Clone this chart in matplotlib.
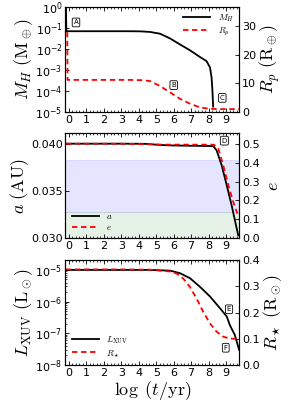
import matplotlib
matplotlib.use("Agg")
import matplotlib.pyplot as plt
import numpy as np

plt.rcParams["mathtext.fontset"] = "cm"
plt.rcParams["xtick.direction"] = "in"
plt.rcParams["ytick.direction"] = "in"
plt.rcParams["xtick.top"] = True

# panneau 1 : masse d'hydrogene et rayon de la planete
t_MH = [-0.17, -0.15, 0.5, 2.0, 3.5, 4.1, 4.64, 5.21, 5.79, 6.36, 6.93, 7.5, 7.88, 8.08, 8.17, 8.22, 8.26]
MH = [0.8, 0.068, 0.068, 0.068, 0.068, 0.067, 0.063, 0.052, 0.031, 0.016, 0.0085, 0.0041, 0.0026, 0.0013, 0.00044, 0.0001, 0.000018]
t_Rp = [-0.1, -0.08, 0.5, 2.0, 3.5, 4.2, 4.64, 5.21, 5.79, 6.36, 6.93, 7.5, 8.08, 8.6, 9.2, 9.75]
Rp = [28.0, 11.2, 11.2, 11.2, 11.2, 11.1, 10.8, 9.1, 6.85, 4.6, 2.9, 1.6, 1.1, 1.0, 1.0, 1.0]

# panneau 2 : demi-grand axe et excentricite
t_a = [-0.17, 1.0, 3.0, 4.3, 4.64, 5.2, 5.79, 7.0, 8.27, 8.46, 8.75, 9.04, 9.32, 9.57, 9.7]
a = [0.0400, 0.0400, 0.0400, 0.03999, 0.03995, 0.03987, 0.03982, 0.03978, 0.03975, 0.03929, 0.03771, 0.0356, 0.03348, 0.03137, 0.0303]
t_e = [-0.17, 1.0, 3.0, 4.5, 5.5, 7.0, 8.3, 8.56, 8.84, 9.13, 9.42, 9.65]
e = [0.5, 0.5, 0.5, 0.497, 0.495, 0.495, 0.495, 0.474, 0.385, 0.28, 0.19, 0.13]
bande_bleue = (0.03278, 0.03824)
bande_verte = (0.030, 0.03278)

# panneau 3 : luminosite XUV et rayon de l'etoile
t_L = [-0.17, 1.0, 3.0, 4.64, 5.79, 6.36, 6.93, 7.5, 8.08, 8.65, 9.04, 9.22, 9.5, 9.75]
L = [1.0e-5, 1.0e-5, 1.0e-5, 1.0e-5, 9.5e-6, 7.9e-6, 5.5e-6, 2.95e-6, 1.45e-6, 6.2e-7, 3.4e-7, 1.8e-7, 8.9e-8, 3.0e-8]
t_Rs = [-0.17, 1.0, 3.0, 4.64, 5.79, 6.17, 6.55, 6.93, 7.31, 7.69, 8.08, 8.46, 8.84, 9.22, 9.7]
Rs = [0.365, 0.365, 0.365, 0.364, 0.357, 0.349, 0.33, 0.298, 0.254, 0.203, 0.159, 0.127, 0.108, 0.101, 0.099]

xlim = (-0.21, 9.76)
taillePolice = 8
tailleLabel = 13
boite = dict(boxstyle="round,pad=0.2", fc="white", ec="black", lw=0.6)

fig = plt.figure(figsize=(2.91, 4.09), dpi=100)

ax1 = fig.add_axes([0.2244, 0.7262, 0.598, 0.2576])
ax2 = fig.add_axes([0.2244, 0.4174, 0.598, 0.2567])
ax3 = fig.add_axes([0.2244, 0.1076, 0.598, 0.2574])

# --- panneau 1
l1, = ax1.plot(t_MH, MH, color="black", lw=1.3, label=r"$M_H$")
ax1.set_yscale("log")
ax1.set_ylim(1e-5, 1e0)
ax1.set_yticks([1e-5, 1e-4, 1e-3, 1e-2, 1e-1, 1e0])
ax1.set_ylabel(r"$M_H\ (\mathrm{M}_\oplus)$", fontsize=tailleLabel, labelpad=0)
ax1b = ax1.twinx()
l2, = ax1b.plot(t_Rp, Rp, color="red", lw=1.3, ls="--", dashes=(3, 2), label=r"$R_p$")
ax1b.set_ylim(0, 36.8)
ax1b.set_yticks([0, 10, 20, 30])
ax1b.set_ylabel(r"$R_p\ (\mathrm{R}_\oplus)$", fontsize=tailleLabel, labelpad=1)
ax1.legend(handles=[l1, l2], loc="upper right", frameon=False, fontsize=6.5, handlelength=3, borderaxespad=0.2, labelspacing=0.2)
ax1.text(0.0615, 0.85, "A", transform=ax1.transAxes, fontsize=5, ha="center", va="center", bbox=boite)
ax1.text(0.623, 0.255, "B", transform=ax1.transAxes, fontsize=5, ha="center", va="center", bbox=boite)
ax1.text(0.902, 0.134, "C", transform=ax1.transAxes, fontsize=5, ha="center", va="center", bbox=boite)

# --- panneau 2
ax2.axhspan(bande_bleue[0], bande_bleue[1], facecolor="blue", edgecolor="blue", alpha=0.1, lw=0.8)
ax2.axhspan(bande_verte[0], bande_verte[1], facecolor="green", edgecolor="none", alpha=0.1)
l3, = ax2.plot(t_a, a, color="black", lw=1.3, label=r"$a$")
ax2.set_ylim(0.030, 0.0411)
ax2.set_yticks([0.030, 0.035, 0.040])
ax2.set_yticklabels(["0.030", "0.035", "0.040"])
ax2.set_ylabel(r"$a\ (\mathrm{AU})$", fontsize=tailleLabel, labelpad=0)
ax2b = ax2.twinx()
l4, = ax2b.plot(t_e, e, color="red", lw=1.3, ls="--", dashes=(3, 2), label=r"$e$")
ax2b.set_ylim(0, 0.555)
ax2b.set_yticks([0.0, 0.1, 0.2, 0.3, 0.4, 0.5])
ax2b.set_ylabel(r"$e$", fontsize=tailleLabel, labelpad=3)
ax2.legend(handles=[l3, l4], loc="lower left", frameon=False, fontsize=6.5, handlelength=3, borderaxespad=0.3, labelspacing=0.2)
ax2.text(0.914, 0.93, "D", transform=ax2.transAxes, fontsize=5, ha="center", va="center", bbox=boite)

# --- panneau 3
l5, = ax3.plot(t_L, L, color="black", lw=1.3, label=r"$L_{\rm XUV}$")
ax3.set_yscale("log")
ax3.set_ylim(1e-8, 2.1e-5)
ax3.set_yticks([1e-8, 1e-7, 1e-6, 1e-5])
ax3.set_ylabel(r"$L_{\rm XUV}\ (\mathrm{L}_\odot)$", fontsize=tailleLabel, labelpad=0)
ax3b = ax3.twinx()
l6, = ax3b.plot(t_Rs, Rs, color="red", lw=1.3, ls="--", dashes=(3, 2), label=r"$R_\star$")
ax3b.set_ylim(0, 0.402)
ax3b.set_yticks([0.0, 0.1, 0.2, 0.3, 0.4])
ax3b.set_ylabel(r"$R_\star\ (\mathrm{R}_\odot)$", fontsize=tailleLabel, labelpad=1)
ax3.legend(handles=[l5, l6], loc="lower left", frameon=False, fontsize=6.5, handlelength=3, borderaxespad=0.3, labelspacing=0.2)
ax3.text(0.941, 0.529, "E", transform=ax3.transAxes, fontsize=5, ha="center", va="center", bbox=boite)
ax3.text(0.922, 0.164, "F", transform=ax3.transAxes, fontsize=5, ha="center", va="center", bbox=boite)
ax3.set_xlabel(r"$\log\ (t/\mathrm{yr})$", fontsize=tailleLabel, labelpad=1)

for ax in [ax1, ax2, ax3]:
    ax.set_xlim(xlim)
    ax.set_xticks(range(10))
    ax.set_xticks(np.arange(0, 9.8, 0.2), minor=True)
    ax.tick_params(axis="both", which="major", labelsize=taillePolice, length=3, width=0.6, pad=2)
    ax.tick_params(axis="both", which="minor", length=1.5, width=0.5)
for ax in [ax1b, ax2b, ax3b]:
    ax.tick_params(axis="y", which="major", labelsize=taillePolice, length=3, width=0.6, pad=2)

plt.savefig("out.png", dpi=100)
